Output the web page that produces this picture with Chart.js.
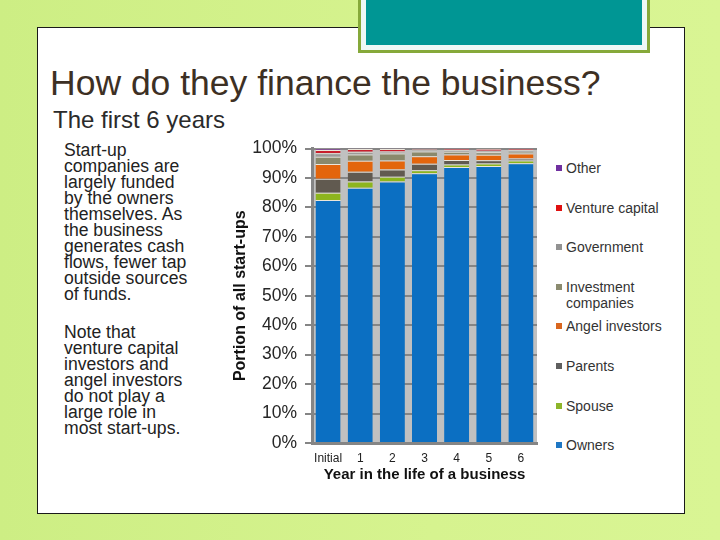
<!DOCTYPE html>
<html>
<head>
<meta charset="utf-8">
<script src="https://cdn.jsdelivr.net/npm/chart.js@4"></script>
<style>
  html, body { margin: 0; padding: 0; }
  body {
    width: 720px; height: 540px; overflow: hidden; position: relative;
    background: linear-gradient(to right, #cdee84, #d6f38f 60%, #d9f594);
    font-family: "Liberation Sans", Arial, sans-serif;
  }
  #slide {
    position: absolute; left: 37px; top: 27px; width: 646px; height: 485px;
    background: #fff; border: 1px solid #1a1a1a;
  }
  #tab {
    position: absolute; left: 358px; top: -6px; width: 286px; height: 53px;
    border: 3px solid #86a93a; background: #eef8f5;
  }
  #tab div { position: absolute; left: 5px; top: 0; right: 5px; bottom: 5px; background: #009694; }
  #title {
    position: absolute; left: 50px; top: 63px; font-size: 35.5px; color: #3d3024;
    white-space: nowrap;
  }
  #subtitle {
    position: absolute; left: 53px; top: 106px; font-size: 24px; color: #2b2b2b;
    white-space: nowrap;
  }
  #notes {
    position: absolute; left: 64px; top: 142px; font-size: 17.6px; line-height: 16px; color: #222;
  }
  #notes p { margin: 0 0 22px 0; }
  #chartBox { position: absolute; left: 228px; top: 130px; width: 320px; height: 360px; }
  #legend {
    position: absolute; left: 556px; top: 160px; width: 118px; margin: 0; padding: 0;
    list-style: none; font-size: 14px; line-height: 16px; color: #333;
  }
  #legend li { height: 39.6px; position: relative; padding-left: 10px; }
  #legend li span {
    position: absolute; left: 0; top: 5px; width: 6px; height: 6px;
  }
</style>
</head>
<body>
<div id="slide"></div>
<div id="tab"><div></div></div>
<div id="title">How do they finance the business?</div>
<div id="subtitle">The first 6 years</div>
<div id="notes">
  <p>Start-up<br>companies are<br>largely funded<br>by the owners<br>themselves. As<br>the business<br>generates cash<br>flows, fewer tap<br>outside sources<br>of funds.</p>
  <p>Note that<br>venture capital<br>investors and<br>angel investors<br>do not play a<br>large role in<br>most start-ups.</p>
</div>
<div id="chartBox"><canvas id="chart" width="320" height="360"></canvas></div>
<ul id="legend"></ul>
<script>
const years = ['Initial', '1', '2', '3', '4', '5', '6'];
const owners     = [82.5, 86.7, 88.8, 91.6, 93.7, 94.1, 95.0];
const spouse     = [2.5, 2.1, 1.6, 1.0, 0.9, 0.8, 0.9];
const parents    = [4.7, 3.3, 2.5, 2.2, 1.5, 1.1, 0.7];
const angel      = [5.0, 3.7, 3.0, 2.6, 1.9, 1.9, 1.7];
const investment = [2.5, 2.2, 2.4, 1.6, 0.9, 0.8, 0.6];
const government = [1.2, 0.9, 0.7, 0.6, 0.6, 0.5, 0.6];
const venture    = [1.1, 0.9, 0.8, 0.2, 0.3, 0.7, 0.3];
const other      = [0.5, 0.2, 0.2, 0.2, 0.2, 0.1, 0.2];
const yTicks = [0, 10, 20, 30, 40, 50, 60, 70, 80, 90, 100];

const series = [
  { label: 'Owners', data: owners, color: '#0b6fc2', key: '#1f77c4' },
  { label: 'Spouse', data: spouse, color: '#8db51e', key: '#8db52a' },
  { label: 'Parents', data: parents, color: '#615a50', key: '#5f5f5f' },
  { label: 'Angel investors', data: angel, color: '#e3650c', key: '#d9661f' },
  { label: 'Investment companies', data: investment, color: '#8a896c', key: '#8b8b6f' },
  { label: 'Government', data: government, color: '#9c9a98', key: '#929292' },
  { label: 'Venture capital', data: venture, color: '#c81e2c', key: '#e01010' },
  { label: 'Other', data: other, color: '#7a3c92', key: '#7030a0' }
];

// grey plot area like the original
const plotBg = {
  id: 'plotBg',
  beforeDraw(chart) {
    const { ctx, chartArea: a } = chart;
    ctx.save();
    ctx.fillStyle = '#c0c0c0';
    ctx.fillRect(a.left, a.top, a.right - a.left, a.bottom - a.top);
    ctx.restore();
  }
};

const data = {
  labels: years,
  datasets: series.map(s => ({
    label: s.label,
    data: s.data,
    backgroundColor: s.color,
    borderColor: '#ebe6da',
    borderWidth: { top: 1, bottom: 0, left: 0, right: 0 },
    borderSkipped: false,
    barPercentage: 0.78,
    categoryPercentage: 1
  }))
};

const config = {
  type: 'bar',
  data: data,
  plugins: [plotBg],
  options: {
    responsive: false,
    animation: false,
    layout: { padding: { left: 0, top: 17, right: 11, bottom: 0 } },
    plugins: {
      legend: { display: false },
      tooltip: { enabled: false }
    },
    scales: {
      x: {
        stacked: true,
        grid: { display: false, drawTicks: false },
        border: { color: '#858585', width: 3 },
        ticks: {
          color: '#222',
          padding: 8,
          maxRotation: 0,
          minRotation: 0,
          autoSkip: false,
          font: { family: 'Liberation Sans', size: 12 }
        },
        title: {
          display: true,
          text: 'Year in the life of a business',
          color: '#111',
          padding: { top: 0, bottom: 6 },
          font: { family: 'Liberation Sans', size: 15, weight: 'bold' }
        },
        afterFit(scale) { scale.height = 47; }
      },
      y: {
        stacked: true,
        min: 0,
        max: 100,
        afterBuildTicks(scale) { scale.ticks = yTicks.map(v => ({ value: v })); },
        grid: { color: '#858585', lineWidth: 2, tickLength: 7, tickColor: '#858585' },
        border: { color: '#858585', width: 3 },
        ticks: {
          color: '#262626',
          padding: 8,
          font: { family: 'Liberation Sans', size: 17.5 },
          callback: v => v + '%'
        },
        title: {
          display: true,
          text: 'Portion of all start-ups',
          color: '#111',
          padding: { top: 3, bottom: 0 },
          font: { family: 'Liberation Sans', size: 16, weight: 'bold' }
        },
        afterFit(scale) { scale.width = 84; }
      }
    }
  }
};

let chart = new Chart(document.getElementById('chart'), config);

// legend list, top entry is the last series
const legend = document.getElementById('legend');
series.slice().reverse().forEach(s => {
  const li = document.createElement('li');
  const box = document.createElement('span');
  box.style.background = s.key;
  li.appendChild(box);
  li.appendChild(document.createTextNode(s.label));
  legend.appendChild(li);
});
</script>
</body>
</html>
